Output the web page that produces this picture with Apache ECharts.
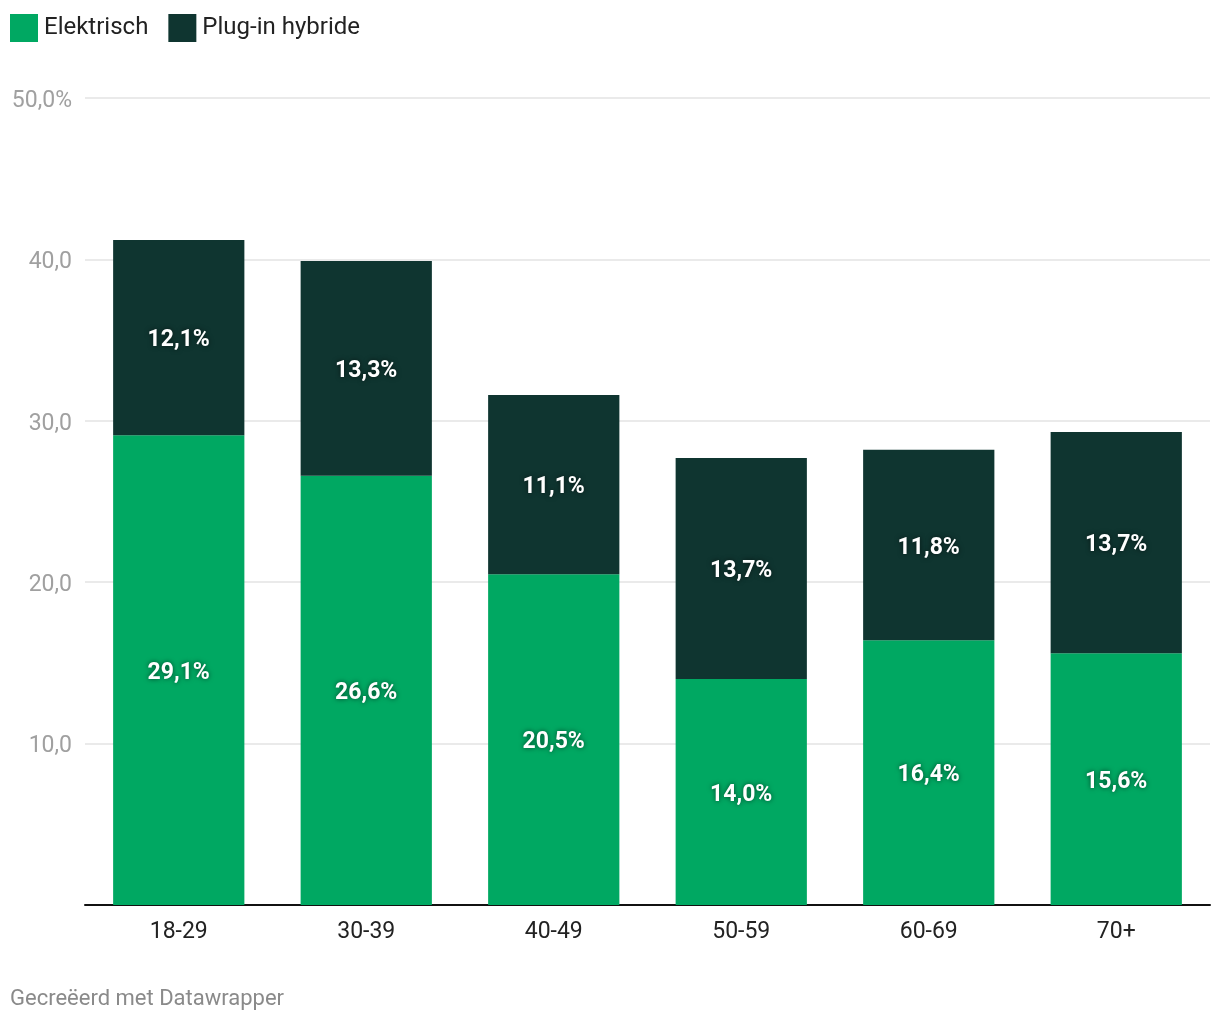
<!DOCTYPE html>
<html>
<head>
<meta charset="utf-8">
<script src="https://cdn.jsdelivr.net/npm/echarts@6/dist/echarts.min.js"></script>
<style>
html,body{margin:0;padding:0;background:#fff;}
#chart{width:1220px;height:1020px;}
</style>
</head>
<body>
<div id="chart"></div>
<script>
const categories = ['18-29','30-39','40-49','50-59','60-69','70+'];
const elektrisch = [29.1, 26.6, 20.5, 14.0, 16.4, 15.6];
const pluginHybride = [12.1, 13.3, 11.1, 13.7, 11.8, 13.7];
const seriesNames = ['Elektrisch', 'Plug-in hybride'];
const footerText = 'Gecreëerd met Datawrapper';

const fmt = v => v.toFixed(1).replace('.', ',') + '%';
const labelStyle = {
  show: true,
  position: 'inside',
  offset: [0, 3],
  color: '#fff',
  fontFamily: 'Roboto',
  fontWeight: 'bold',
  fontSize: 23,
  textShadowColor: 'rgba(0,0,0,0.6)',
  textShadowBlur: 5,
  formatter: p => fmt(p.value)
};

const chart = echarts.init(document.getElementById('chart'), null, {renderer: 'canvas'});
chart.setOption({
  animation: false,
  textStyle: {fontFamily: 'Roboto'},
  legend: {
    left: 10, top: 14, padding: 0,
    itemWidth: 28, itemHeight: 28, itemGap: 20,
    icon: 'rect',
    textStyle: {fontFamily: 'Roboto', fontSize: 24, color: '#222', padding: [0,0,0,1]},
    data: seriesNames
  },
  graphic: [{
    type: 'text', left: 10, top: 988,
    style: {text: footerText, fontFamily: 'Roboto', fontSize: 22, fill: '#8a8a8a'}
  }],
  grid: {left: 85, right: 10, top: 98, bottom: 115, containLabel: false},
  xAxis: {
    type: 'category',
    data: categories,
    axisLine: {show: true, lineStyle: {color: '#111', width: 2}},
    axisTick: {show: false},
    axisLabel: {fontFamily: 'Roboto', fontSize: 23, color: '#222', margin: 16}
  },
  yAxis: {
    type: 'value', min: 0, max: 50, interval: 10,
    axisLine: {show: false}, axisTick: {show: false},
    splitLine: {lineStyle: {color: '#e3e3e3', width: 1.5}},
    axisLabel: {
      fontFamily: 'Roboto', fontSize: 23, color: '#a0a0a0', margin: 13,
      formatter: v => v === 0 ? '' : '{a|' + (v === 50 ? '50,0%' : v.toFixed(1).replace('.', ',')) + '}',
      rich: {a: {fontFamily: 'Roboto', fontSize: 23, color: '#a0a0a0', padding: [6, 0, 0, 0]}}
    }
  },
  series: [
    {name: seriesNames[0], type: 'bar', stack: 'a', data: elektrisch, barWidth: '70%',
     itemStyle: {color: '#00a862'}, label: labelStyle},
    {name: seriesNames[1], type: 'bar', stack: 'a', data: pluginHybride, barWidth: '70%',
     itemStyle: {color: '#0f3530'}, label: labelStyle}
  ]
});
</script>
</body>
</html>
